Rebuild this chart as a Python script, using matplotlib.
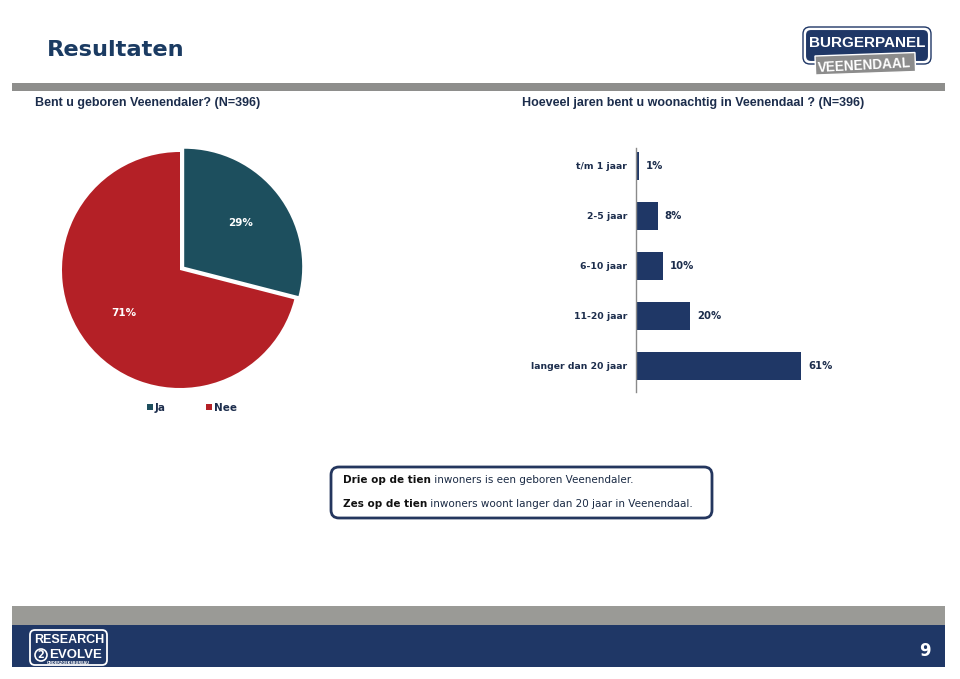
import matplotlib
matplotlib.use("Agg")
import matplotlib.pyplot as plt
from matplotlib.patches import Rectangle, FancyBboxPatch, Circle

# ---- data ----
pie_labels = ["Ja", "Nee"]
pie_values = [29, 71]

bar_labels = ["t/m 1 jaar", "2-5 jaar", "6-10 jaar", "11-20 jaar", "langer dan 20 jaar"]
bar_values = [1, 8, 10, 20, 61]

pie_title = "Bent u geboren Veenendaler? (N=396)"
bar_title = "Hoeveel jaren bent u woonachtig in Veenendaal ? (N=396)"
summary = [("Drie op de tien", " inwoners is een geboren Veenendaler."),
           ("Zes op de tien", " inwoners woont langer dan 20 jaar in Veenendaal.")]

# ---- colours ----
NAVY = "#1f3766"
TEXT = "#1c2d4c"
TEAL = "#1d4f5e"
RED = "#b42026"
GREY = "#8e8e8c"
LOGO_FONT = "Liberation Sans"

W, H = 960, 679
fig = plt.figure(figsize=(W / 100, H / 100), dpi=100)
fig.patch.set_facecolor("white")

# background axes in pixel coordinates
bg = fig.add_axes([0, 0, 1, 1])
bg.set_xlim(0, W)
bg.set_ylim(H, 0)
bg.set_axis_off()


def px_axes(left, top, width, height):
    return fig.add_axes([left / W, 1 - (top + height) / H, width / W, height / H])


# header
bg.text(47, 50, "Resultaten", fontsize=16.2, fontweight="bold", color="#1b3b62",
        ha="left", va="center")
bg.add_patch(Rectangle((12, 83), 933, 8, color=GREY, lw=0))

# Burgerpanel logo
bg.add_patch(FancyBboxPatch((805, 29), 124, 33, boxstyle="round,pad=0,rounding_size=6",
                            fc=NAVY, ec="white", lw=1.5, zorder=3))
bg.add_patch(FancyBboxPatch((803, 27), 128, 37, boxstyle="round,pad=0,rounding_size=7",
                            fc="none", ec=NAVY, lw=1, zorder=3))
bg.text(867, 43, "BURGERPANEL", fontsize=11, fontweight="bold", color="white",
        family=LOGO_FONT, ha="center", va="center", zorder=4)
bg.add_patch(Rectangle((815, 56), 100, 19, fc="#8c8c8c", ec="white", lw=1,
                       angle=-2, zorder=5))
bg.text(864, 66, "VEENENDAAL", fontsize=9.8, fontweight="bold", color="white",
        family=LOGO_FONT, ha="center", va="center", rotation=3, zorder=6)

# section titles
bg.text(35, 103, pie_title, fontsize=9, fontweight="bold", color=TEXT,
        family="Liberation Sans", ha="left", va="center")
bg.text(522, 103, bar_title, fontsize=9, fontweight="bold", color=TEXT,
        family="Liberation Sans", ha="left", va="center")

# ---- pie ----
R = 118
lim = 1.25
ax_pie = px_axes(180 - R * lim, 270 - R * lim, 2 * R * lim, 2 * R * lim)
wedges, _, autotexts = ax_pie.pie(
    pie_values, colors=[TEAL, RED], startangle=90, counterclock=False,
    explode=[0.045, 0], autopct="%1.0f%%", pctdistance=0.6,
    textprops=dict(color="white", fontsize=7.5, fontweight="bold"))
ax_pie.set_xlim(-lim, lim)
ax_pie.set_ylim(-lim, lim)
ax_pie.set_aspect("equal")
ax_pie.legend(wedges, pie_labels, loc="center", bbox_to_anchor=(192, 408),
              bbox_transform=bg.transData, ncol=2, frameon=False,
              handlelength=0.55, handleheight=0.55, handletextpad=0.15,
              columnspacing=3.9, prop=dict(size=7.5, weight="bold"),
              labelcolor=TEXT)

# ---- bars ----
scale = 2.705  # px per percent
ax_bar = px_axes(636, 148, 70 * scale, 244)
ypos = list(range(len(bar_values)))
bars = ax_bar.barh(ypos, bar_values, height=0.56, color=NAVY)
ax_bar.set_xlim(0, 70)
ax_bar.set_ylim(4.52, -0.36)
ax_bar.set_yticks(ypos)
ax_bar.set_yticklabels(bar_labels, fontsize=6.7, fontweight="bold", color=TEXT)
ax_bar.tick_params(axis="y", length=0, pad=6.5)
ax_bar.set_xticks([])
for side in ["top", "right", "bottom"]:
    ax_bar.spines[side].set_visible(False)
ax_bar.spines["left"].set_color("#8a8a8a")
ax_bar.spines["left"].set_linewidth(1)
ax_bar.bar_label(bars, labels=[f"{v}%" for v in bar_values], padding=5,
                 fontsize=7.3, fontweight="bold", color=TEXT)
ax_bar.patch.set_alpha(0)

# ---- summary box ----
bg.add_patch(FancyBboxPatch((331, 467), 381, 51, boxstyle="round,pad=0,rounding_size=8",
                            fc="white", ec="#24365e", lw=2))
for i, (bold, rest) in enumerate(summary):
    t = bg.text(343, 480 + 24 * i, bold, fontsize=7.45, fontweight="bold", color="#111111",
                ha="left", va="center")
    bg.annotate(rest, xy=(1, 0), xycoords=t, ha="left", va="bottom",
                fontsize=7.45, color="#1a2a44")

# ---- footer ----
bg.add_patch(Rectangle((12, 606), 933, 19, color="#9a9a96", lw=0))
bg.add_patch(Rectangle((12, 625), 933, 42, color=NAVY, lw=0))
bg.add_patch(FancyBboxPatch((30, 630), 77, 35, boxstyle="round,pad=0,rounding_size=5",
                            fc="none", ec="white", lw=1.3))
bg.text(69, 640, "RESEARCH", fontsize=9, fontweight="bold", color="white",
        family=LOGO_FONT, ha="center", va="center")
bg.add_patch(Circle((41, 655), 6, fc="none", ec="white", lw=1.2))
bg.text(41, 655.5, "2", fontsize=7, fontweight="bold", color="white",
        ha="center", va="center")
bg.text(76, 655, "EVOLVE", fontsize=9.5, fontweight="bold", color="white",
        family=LOGO_FONT, ha="center", va="center")
bg.text(68, 663.5, "ONDERZOEKSBUREAU", fontsize=2.5, fontweight="bold", color="white",
        ha="center", va="center")
bg.text(925, 651, "9", fontsize=12, fontweight="bold", color="white",
        ha="center", va="center")

fig.savefig("out.png", dpi=100, facecolor=fig.get_facecolor())
